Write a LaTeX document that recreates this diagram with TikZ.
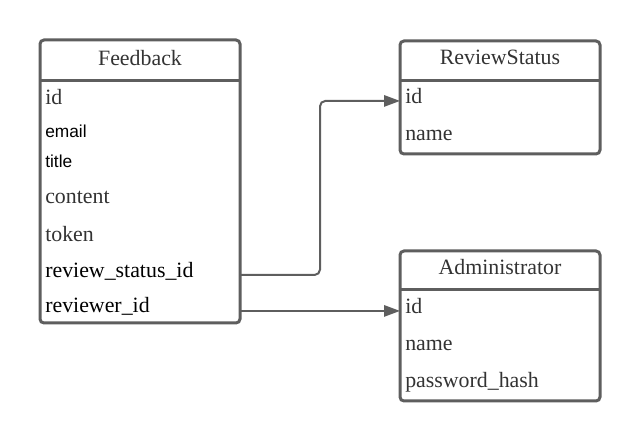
\documentclass[tikz,border=0pt]{standalone}
\usepackage{fontspec}
\setmainfont{Liberation Serif}
\newfontfamily\sansf{Liberation Sans}
\usetikzlibrary{arrows.meta,fit}
\definecolor{lc}{HTML}{5E5E5E}
\definecolor{tc}{HTML}{333333}
\begin{document}
\begin{tikzpicture}[x=0.75pt,y=-0.75pt,
  box/.style={draw=lc,line width=2.25pt,rounded corners=3pt,inner sep=0pt,outer sep=0pt},
  sepline/.style={draw=lc,line width=2.25pt},
  head/.style={anchor=base,inner sep=0pt,text=tc,font=\fontsize{16.4}{19}\selectfont},
  field/.style={anchor=base west,inner sep=0pt,text=tc,font=\fontsize{16.4}{19}\selectfont},
  bfield/.style={field,text=black},
  sfield/.style={anchor=base west,inner sep=0pt,text=black,font=\sansf\fontsize{13}{15}\selectfont},
  conn/.style={draw=lc,line width=1.5pt,rounded corners=4pt,-{Triangle[length=12pt,width=8.5pt]}}]
\useasboundingbox (0,0) rectangle (640,441);
% Feedback
\coordinate (fbA) at (40,40); \coordinate (fbB) at (240,323);
\node[box,fit=(fbA)(fbB)] (fb) {};
\draw[sepline] ([yshift=-30.75pt]fb.north west) -- ([yshift=-30.75pt]fb.north east);
\node[head] (fbh) at (140,66) {Feedback};
\node[field] (f1) at (45,105) {id};
\node[sfield] (f2) at (45,138) {email};
\node[sfield] (f3) at (45,168) {title};
\node[field] (f4) at (45,204) {content};
\node[field] (f5) at (45,242) {token};
\node[bfield] (f6) at (45,278) {review\_status\_id};
\node[bfield] (f7) at (45,313) {reviewer\_id};
% ReviewStatus
\coordinate (rsA) at (400,41); \coordinate (rsB) at (600,154);
\node[box,fit=(rsA)(rsB)] (rs) {};
\draw[sepline] ([yshift=-30pt]rs.north west) -- ([yshift=-30pt]rs.north east);
\node[head] (rsh) at (500,65) {ReviewStatus};
\node[field] (r1) at (405,104) {id};
\node[field] (r2) at (405,141) {name};
% Administrator
\coordinate (adA) at (400,251); \coordinate (adB) at (600,401);
\node[box,fit=(adA)(adB)] (ad) {};
\draw[sepline] ([yshift=-29.25pt]ad.north west) -- ([yshift=-29.25pt]ad.north east);
\node[head] (adh) at (500,275) {Administrator};
\node[field] (a1) at (405,314) {id};
\node[field] (a2) at (405,351) {name};
\node[field] (a3) at (405,388) {password\_hash};
% connectors
\coordinate (bend) at (320,0);
\draw[conn] (fb.east |- f6.mid) -| (bend |- r1.mid) -- (rs.west |- r1.mid);
\draw[conn] (fb.east |- a1.mid) -- (ad.west |- a1.mid);
\end{tikzpicture}
\end{document}
